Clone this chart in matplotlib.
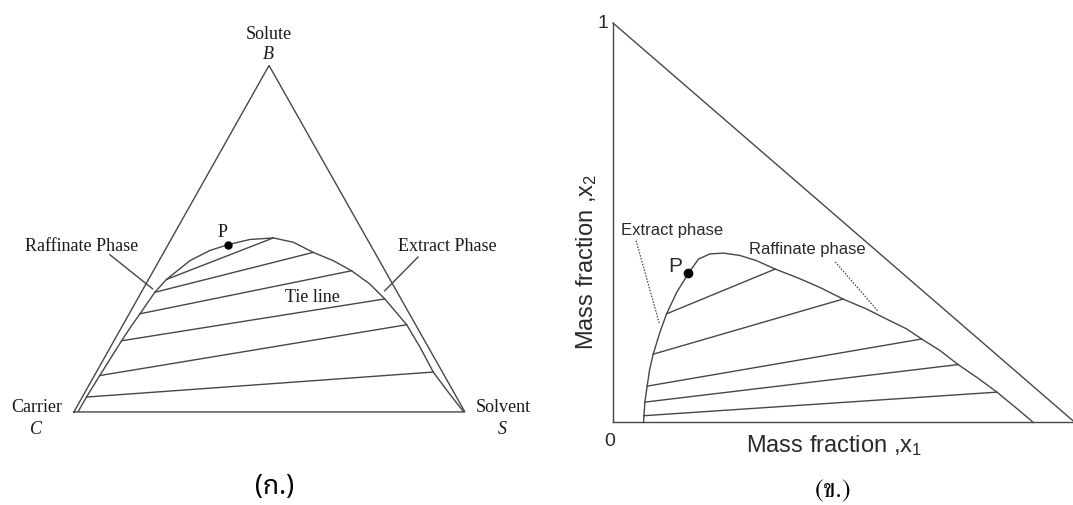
import matplotlib
matplotlib.use("Agg")
import matplotlib.pyplot as plt
from matplotlib import font_manager as fm

# ---------------- data: left ternary diagram (C=(0,0), S=(1,0)) ----------------
tri_x = [0.0, 1.0, 0.499, 0.0]
tri_y = [0.0, 0.0, 0.886, 0.0]

bin_left_x = [0.011, 0.032, 0.066, 0.122, 0.145, 0.169, 0.207, 0.237, 0.297, 0.348, 0.395,
              0.450, 0.510, 0.561, 0.612, 0.663, 0.710, 0.757, 0.795, 0.851, 0.885, 0.919, 0.957, 0.996]
bin_left_y = [0.001, 0.038, 0.093, 0.182, 0.217, 0.251, 0.306, 0.339, 0.387, 0.413, 0.428,
              0.441, 0.445, 0.434, 0.408, 0.387, 0.361, 0.327, 0.289, 0.223, 0.166, 0.102, 0.051, 0.001]

tie_left_x1 = [0.237, 0.207, 0.169, 0.122, 0.066, 0.032]
tie_left_y1 = [0.339, 0.306, 0.251, 0.182, 0.093, 0.038]
tie_left_x2 = [0.510, 0.612, 0.710, 0.795, 0.851, 0.919]
tie_left_y2 = [0.445, 0.408, 0.361, 0.289, 0.223, 0.102]

P_left = (0.395, 0.428)

# ---------------- data: right right-triangle diagram ----------------
bin_right_x = [0.066, 0.067, 0.069, 0.074, 0.079, 0.087, 0.101, 0.116, 0.138, 0.163, 0.185,
               0.210, 0.239, 0.275, 0.311, 0.351, 0.398, 0.448, 0.498, 0.549, 0.592, 0.636,
               0.668, 0.708, 0.747, 0.790, 0.831, 0.870, 0.910]
bin_right_y = [0.000, 0.017, 0.051, 0.091, 0.131, 0.171, 0.224, 0.272, 0.326, 0.373, 0.409,
               0.422, 0.424, 0.418, 0.405, 0.384, 0.363, 0.338, 0.309, 0.284, 0.259, 0.234,
               0.209, 0.180, 0.145, 0.111, 0.076, 0.039, 0.000]

tie_right_x1 = [0.116, 0.087, 0.074, 0.069, 0.067]
tie_right_y1 = [0.272, 0.171, 0.091, 0.051, 0.017]
tie_right_x2 = [0.351, 0.498, 0.668, 0.747, 0.831]
tie_right_y2 = [0.384, 0.309, 0.209, 0.145, 0.076]

P_right = (0.163, 0.373)

# ---------------- fonts ----------------
def find_thai_fonts():
    try:
        from fontTools.ttLib import TTFont
    except Exception:
        return []
    found = []
    for path in fm.findSystemFonts():
        try:
            f = TTFont(path, fontNumber=0, lazy=True)
            cmap = f.getBestCmap() or {}
            if 0x0E01 in cmap and 0x0E02 in cmap:
                found.append(path)
        except Exception:
            continue
    found.sort()
    return found

thai_fonts = find_thai_fonts()
sans_thai = [p for p in thai_fonts if 'serif' not in p.lower() or 'sans' in p.lower()]
serif_thai = [p for p in thai_fonts if 'serif' in p.lower() and 'sans' not in p.lower()]
sans_thai.sort(key=lambda p: (0 if 'Noto' in p else 1, 0 if 'Regular' in p else 1, p))
serif_thai.sort(key=lambda p: (0 if 'Regular' in p else 1, p))

def thai_prop(paths, size):
    if paths:
        return fm.FontProperties(fname=paths[0], size=size)
    return fm.FontProperties(family='DejaVu Sans', size=size)

thai_fp_a = thai_prop(sans_thai or thai_fonts, 19)
thai_fp_b = thai_prop(serif_thai or sans_thai or thai_fonts, 19)

plt.rcParams['mathtext.fontset'] = 'custom'
plt.rcParams['mathtext.rm'] = 'Liberation Sans'
plt.rcParams['mathtext.it'] = 'Liberation Sans'

LC = '#474747'
LW = 1.0
SERIF = 'Liberation Serif'
SANS = 'Liberation Sans'

fig = plt.figure(figsize=(10.73, 5.06), dpi=100)
fig.patch.set_facecolor('white')

# ---------------- left panel ----------------
axl = fig.add_axes([0, 0, 540 / 1073, 1])
axl.set_xlim(-0.189, 1.192)
axl.set_ylim(-0.238, 1.056)
axl.axis('off')

axl.plot(tri_x, tri_y, color=LC, lw=LW, solid_joinstyle='miter')
axl.plot(bin_left_x, bin_left_y, color=LC, lw=LW, solid_joinstyle='round')
for x1, y1, x2, y2 in zip(tie_left_x1, tie_left_y1, tie_left_x2, tie_left_y2):
    axl.plot([x1, x2], [y1, y2], color=LC, lw=LW)
axl.plot([P_left[0]], [P_left[1]], 'o', color='black', ms=5)

axl.plot([0.092, 0.201], [0.402, 0.315], color=LC, lw=LW)
axl.plot([0.880, 0.795], [0.396, 0.310], color=LC, lw=LW)

st = dict(family=SERIF, fontsize=13, color='#1a1a1a', ha='center', va='center')
axl.text(0.498, 0.969, 'Solute', **st)
axl.text(0.496, 0.916, 'B', style='italic', **st)
axl.text(0.020, 0.425, 'Raffinate Phase', **st)
axl.text(0.954, 0.425, 'Extract Phase', **st)
axl.text(0.611, 0.294, 'Tie line', **st)
axl.text(0.381, 0.461, 'P', **st)
axl.text(-0.095, 0.015, 'Carrier', **st)
axl.text(-0.097, -0.043, 'C', style='italic', **st)
axl.text(1.097, 0.015, 'Solvent', **st)
axl.text(1.095, -0.043, 'S', style='italic', **st)
axl.text(0.512, -0.190, '(ก.)', fontproperties=thai_fp_a, ha='center', va='center', color='black')

# ---------------- right panel ----------------
axr = fig.add_axes([540 / 1073, 0, 533 / 1073, 1])
axr.set_xlim(-0.158, 0.9957)
axr.set_ylim(-0.2065, 1.060)
axr.axis('off')

axr.plot([0, 0], [0, 1], color=LC, lw=LW)
axr.plot([0, 1], [0, 0], color=LC, lw=LW, clip_on=False)
axr.plot([0, 1], [1, 0], color=LC, lw=LW, clip_on=False)
axr.plot(bin_right_x, bin_right_y, color=LC, lw=LW, solid_joinstyle='round')
for x1, y1, x2, y2 in zip(tie_right_x1, tie_right_y1, tie_right_x2, tie_right_y2):
    axr.plot([x1, x2], [y1, y2], color=LC, lw=LW)
axr.plot([P_right[0]], [P_right[1]], 'o', color='black', ms=6)

axr.plot([0.050, 0.100], [0.455, 0.249], color=LC, lw=0.9, ls=(0, (1.2, 1.2)))
axr.plot([0.481, 0.574], [0.402, 0.278], color=LC, lw=0.9, ls=(0, (1.2, 1.2)))

ss = dict(family=SANS, color='#2a2a2a', ha='center', va='center')
axr.text(0.128, 0.484, 'Extract phase', fontsize=12, **ss)
axr.text(0.420, 0.436, 'Raffinate phase', fontsize=12, **ss)
axr.text(0.134, 0.392, 'P', fontsize=15, **ss)
axr.text(-0.0212, 1.0005, '1', fontsize=14, **ss)
axr.text(-0.0065, -0.0456, '0', fontsize=14, **ss)
axr.text(0.478, -0.054, r'Mass fraction ,x$_\mathrm{1}$', fontsize=17, **ss)
axr.text(-0.0563, 0.404, r'Mass fraction ,x$_\mathrm{2}$', fontsize=17, rotation=90, **ss)
axr.text(0.476, -0.170, '(ข.)', fontproperties=thai_fp_b, ha='center', va='center', color='black')

fig.savefig('out.png', dpi=100, facecolor='white')
